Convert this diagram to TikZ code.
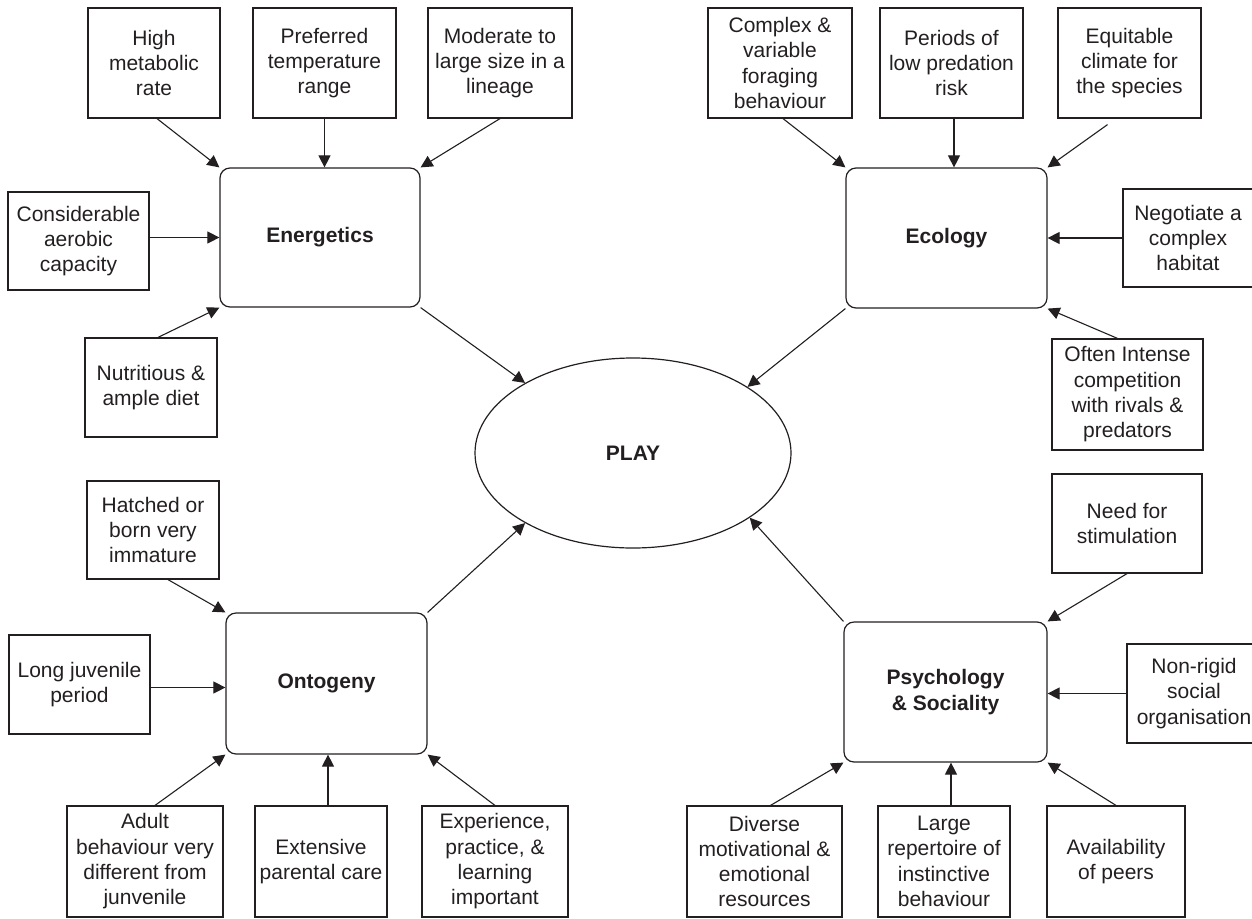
\documentclass[tikz,border=0pt]{standalone}
\usepackage{fontspec}
\setmainfont{Liberation Sans}
\usetikzlibrary{arrows.meta,shapes.geometric}
\definecolor{ink}{RGB}{35,31,32}
\tikzset{
  txt/.style={font=\fontsize{21}{25.3}\selectfont, text=ink, align=center},
  fbox/.style={txt, draw=ink, line width=1.2pt, rectangle, inner sep=0pt},
  cat/.style={txt, draw=ink, line width=1.2pt, rectangle, rounded corners=10pt, inner sep=0pt, font=\fontsize{21}{25.3}\selectfont\bfseries},
  arr/.style={draw=ink, line width=1.1pt, -{Triangle[length=12pt,width=12pt]}},
}
\begin{document}
\begin{tikzpicture}[x=1pt,y=-1pt]
\useasboundingbox (0,0) rectangle (1252,918);
% Energetics group
\node[fbox, minimum width=132pt, minimum height=110pt] (high) at (154,63) {High\\metabolic\\rate};
\node[fbox, minimum width=143pt, minimum height=110pt] (pref) at (324.5,63) {Preferred\\temperature\\range};
\node[fbox, minimum width=144pt, minimum height=110pt] (moder) at (500,63) {Moderate to\\large size in a\\lineage};
\node[fbox, minimum width=141pt, minimum height=98pt] (consid) at (78.5,241) {Considerable\\aerobic\\capacity};
\node[fbox, minimum width=132pt, minimum height=99pt] (nutr) at (151,387.5) {Nutritious \&\\ample diet};
\node[cat, minimum width=200pt, minimum height=139pt] (energ) at (320,237.5) {Energetics};
% Ecology group
\node[fbox, minimum width=144pt, minimum height=110pt] (complex) at (780,63) {Complex \&\\variable\\foraging\\behaviour};
\node[fbox, minimum width=143pt, minimum height=110pt] (periods) at (951.5,63) {Periods of\\low predation\\risk};
\node[fbox, minimum width=143pt, minimum height=110pt] (equit) at (1129.5,63) {Equitable\\climate for\\the species};
\node[cat, minimum width=201pt, minimum height=140pt] (ecol) at (946.5,238) {Ecology};
\node[fbox, minimum width=130pt, minimum height=98pt] (negot) at (1188,238) {Negotiate a\\complex\\habitat};
\node[fbox, minimum width=151pt, minimum height=111pt] (often) at (1127.5,394.5) {Often Intense\\competition\\with rivals \&\\predators};
% Ontogeny group
\node[fbox, minimum width=132pt, minimum height=98pt] (hatched) at (153,530) {Hatched or\\born very\\immature};
\node[fbox, minimum width=141pt, minimum height=99pt] (longj) at (79.5,684.5) {Long juvenile\\period};
\node[cat, minimum width=201pt, minimum height=141pt] (ontog) at (326.5,683.5) {Ontogeny};
\node[fbox, minimum width=156pt, minimum height=111pt] (adult) at (145,861.5) {Adult\\behaviour very\\different from\\junvenile};
\node[fbox, minimum width=132pt, minimum height=111pt] (extens) at (321,861.5) {Extensive\\parental care};
\node[fbox, minimum width=146pt, minimum height=111pt] (exper) at (495,861.5) {Experience,\\practice, \&\\learning\\important};
% Psychology group
\node[fbox, minimum width=150pt, minimum height=99pt] (need) at (1127,523.5) {Need for\\stimulation};
\node[cat, minimum width=203pt, minimum height=140pt] (psych) at (945.5,692) {Psychology\\\& Sociality};
\node[fbox, minimum width=134pt, minimum height=99pt] (nonrig) at (1194,693.5) {Non-rigid\\social\\organisation};
\node[fbox, minimum width=155pt, minimum height=111pt] (diverse) at (764.5,861.5) {Diverse\\motivational \&\\emotional\\resources};
\node[fbox, minimum width=132pt, minimum height=111pt] (large) at (944,861.5) {Large\\repertoire of\\instinctive\\behaviour};
\node[fbox, minimum width=138pt, minimum height=111pt] (avail) at (1116,861.5) {Availability\\of peers};
% Centre
\node[txt, draw=ink, line width=1.2pt, ellipse, minimum width=316pt, minimum height=190pt, inner sep=0pt, font=\fontsize{21}{25.3}\selectfont\bfseries] (play) at (633,453) {PLAY};
% Arrows: Energetics
\draw[arr] ([xshift=3pt]high.south) -- (energ.north west);
\draw[arr] (pref.south) -- (pref.south |- energ.north);
\draw[arr] (moder.south) -- (energ.north east);
\draw[arr] (energ.west -| consid.east) -- (energ.west);
\draw[arr] ([xshift=7pt]nutr.north) -- (energ.south west);
\draw[arr] (energ.south east) -- (play.147.8);
% Arrows: Ecology
\draw[arr] ([xshift=3pt]complex.south) -- (ecol.north west);
\draw[arr] ([xshift=2.5pt]periods.south) -- ([xshift=2.5pt]periods.south |- ecol.north);
\draw[arr] ([xshift=-22pt,yshift=-6pt]equit.south) -- (ecol.north east);
\draw[arr] (negot.west) -- (negot.west -| ecol.east);
\draw[arr] ([xshift=-10pt]often.north) -- (ecol.south east);
\draw[arr] (ecol.south west) -- (play.30.2);
% Arrows: Ontogeny
\draw[arr] ([xshift=15pt]hatched.south) -- (ontog.north west);
\draw[arr] ([yshift=-3pt]longj.east) -- ([yshift=-3pt]longj.east -| ontog.west);
\draw[arr] ([xshift=10pt]adult.north) -- (ontog.south west);
\draw[arr] ([xshift=7pt]extens.north) -- ([xshift=7pt]extens.north |- ontog.south);
\draw[arr] (exper.north) -- (ontog.south east);
\draw[arr] (ontog.north east) -- (play.213);
% Arrows: Psychology
\draw[arr] (need.south) -- (psych.north east);
\draw[arr] (nonrig.west) -- (nonrig.west -| psych.east);
\draw[arr] ([xshift=6pt]diverse.north) -- (psych.south west);
\draw[arr] ([xshift=7pt]large.north) -- ([xshift=7pt]large.north |- psych.south);
\draw[arr] (avail.north) -- (psych.south east);
\draw[arr] (psych.north west) -- (play.-29.4);
\end{tikzpicture}
\end{document}
